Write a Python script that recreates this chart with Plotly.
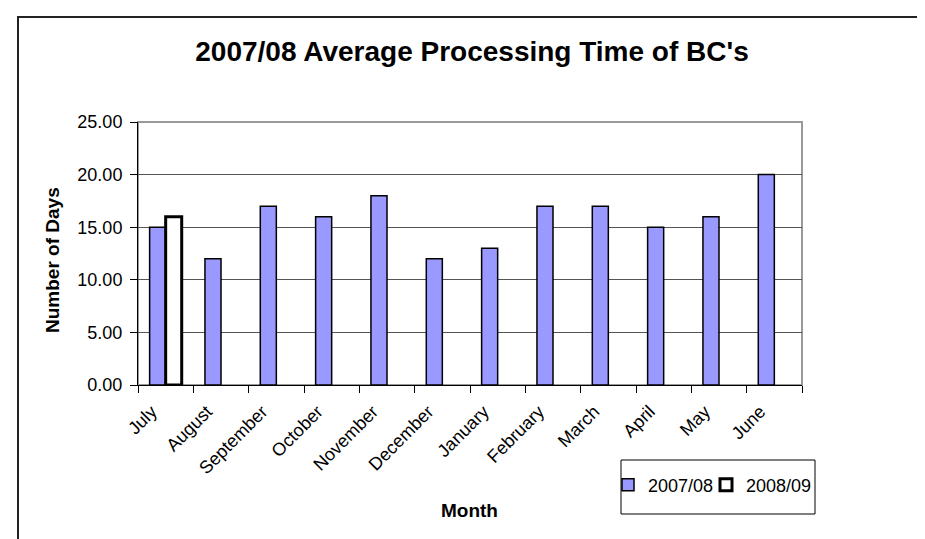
import plotly.graph_objects as go

months = ["July", "August", "September", "October", "November", "December",
          "January", "February", "March", "April", "May", "June"]
days_2007_08 = [15, 12, 17, 16, 18, 12, 13, 17, 17, 15, 16, 20]
days_2008_09 = [16, None, None, None, None, None, None, None, None, None, None, None]
y_ticks = [0, 5, 10, 15, 20, 25]
y_tick_labels = ["0.00", "5.00", "10.00", "15.00", "20.00", "25.00"]

FONT = "Arial, Liberation Sans, sans-serif"
W, H = 925, 539
L, R, T, B = 130, 131, 114, 162
PW, PH = W - L - R, H - T - B


def px_x(px):
    return (px - L) / PW


def px_y(py):
    return (H - B - py) / PH


fig = go.Figure()
fig.add_trace(go.Bar(
    x=months, y=days_2007_08, name="2007/08",
    marker=dict(color="#9999FF", line=dict(color="black", width=1.5)),
    legend="legend",
))
fig.add_trace(go.Bar(
    x=months, y=days_2008_09, name="2008/09",
    marker=dict(color="white", line=dict(color="black", width=3)),
    legend="legend2",
))

shapes = [
    # plot area border (gray)
    dict(type="rect", xref="paper", yref="paper", x0=0, x1=1, y0=0, y1=1,
         line=dict(color="#999999", width=2), layer="below"),
    # outer chart border
    dict(type="rect", xref="paper", yref="paper",
         x0=px_x(10), x1=px_x(918), y0=px_y(545), y1=px_y(9),
         line=dict(color="#222222", width=2), fillcolor="rgba(0,0,0,0)"),
    # legend box
    dict(type="rect", xref="paper", yref="paper",
         x0=px_x(613), x1=px_x(807), y0=px_y(506), y1=px_y(452),
         line=dict(color="black", width=1), fillcolor="white", layer="below"),
]

fig.update_layout(
    width=W, height=H,
    margin=dict(l=L, r=R, t=T, b=B),
    paper_bgcolor="white", plot_bgcolor="white",
    barmode="group", bargap=0.42, bargroupgap=0,
    font=dict(family=FONT, color="black", size=18),
    title=dict(text="2007/08 Average Processing Time of BC's",
               x=464 / W, xanchor="center", xref="container",
               y=1 - 43 / H, yanchor="middle", yref="container",
               font=dict(family=FONT, size=28, color="black", weight="bold")),
    xaxis=dict(type="category", categoryorder="array", categoryarray=months,
               tickangle=-45, tickson="boundaries", ticks="outside", ticklen=7,
               tickcolor="black", showline=True, linecolor="black", linewidth=1,
               showgrid=False, ticklabelstandoff=8, ticklabelshift=-14,
               tickfont=dict(size=18, family=FONT)),
    yaxis=dict(range=[0, 25], tickvals=y_ticks, ticktext=y_tick_labels,
               ticks="outside", ticklen=7, tickcolor="black",
               showline=True, linecolor="black", linewidth=1,
               showgrid=True, gridcolor="#555555", gridwidth=1,
               zeroline=False, ticklabelstandoff=4,
               tickfont=dict(size=18, family=FONT)),
    showlegend=True,
    legend=dict(x=px_x(600), y=px_y(477), xanchor="left", yanchor="middle",
                orientation="h", bgcolor="rgba(0,0,0,0)", borderwidth=0,
                font=dict(size=18, family=FONT), itemwidth=30),
    legend2=dict(x=px_x(698), y=px_y(477), xanchor="left", yanchor="middle",
                 orientation="h", bgcolor="rgba(0,0,0,0)", borderwidth=0,
                 font=dict(size=18, family=FONT), itemwidth=30),
    shapes=shapes,
    annotations=[
        dict(text="<b>Number of Days</b>", xref="paper", yref="paper",
             x=px_x(44), y=px_y(252), textangle=-90, showarrow=False,
             xanchor="center", yanchor="middle",
             font=dict(size=19, family=FONT)),
        dict(text="<b>Month</b>", xref="paper", yref="paper",
             x=px_x(461), y=px_y(503), showarrow=False,
             xanchor="center", yanchor="middle",
             font=dict(size=19, family=FONT)),
    ],
)

fig.write_html("out.html")
